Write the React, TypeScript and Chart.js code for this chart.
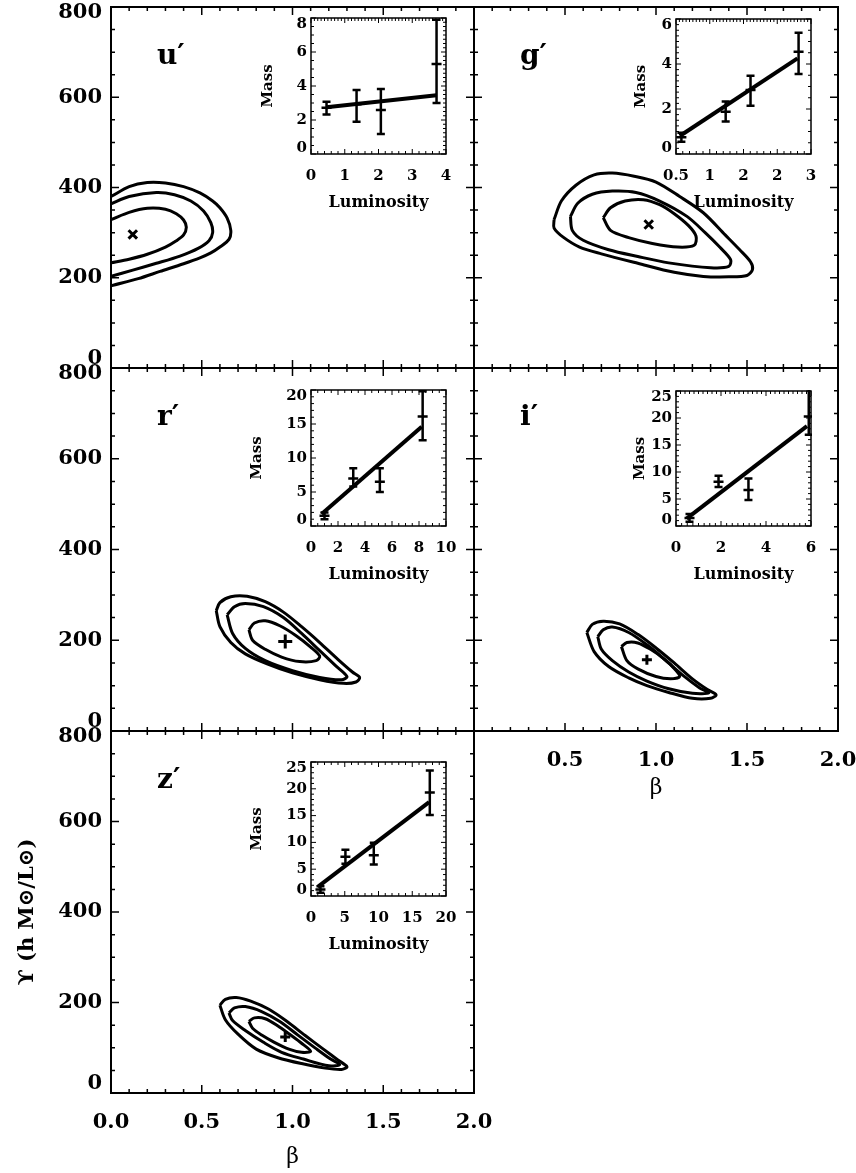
import React, { useEffect, useRef } from "react";
import { Chart, registerables } from "chart.js";

Chart.register(...registerables);

type Pt = [number, number];

// ---------- main panels: confidence contours (beta, Upsilon) ----------
const uOuter: Pt[] = [[-0.05,370],[0,380],[0.1,402],[0.2,411],[0.3,410],[0.4,402],[0.49,388],[0.56,370],[0.6,355],[0.64,332],[0.66,305],[0.65,285],[0.6,268],[0.55,255],[0.49,244],[0.4,231],[0.27,214],[0.15,198],[0,182],[-0.05,176]];
const uMiddle: Pt[] = [[-0.05,356],[0,364],[0.1,380],[0.25,389],[0.35,384],[0.44,370],[0.51,348],[0.55,322],[0.56,300],[0.54,282],[0.48,265],[0.38,248],[0.25,232],[0.12,217],[0,203],[-0.05,197]];
const uInner: Pt[] = [[-0.05,322],[0,329],[0.1,345],[0.2,354],[0.3,352],[0.36,342],[0.4,328],[0.415,312],[0.4,295],[0.36,282],[0.3,268],[0.2,252],[0.1,241],[0,233],[-0.05,229]];
const uBest: Pt = [0.12, 296];

const gOuter: Pt[] = [[0.44,329],[0.48,370],[0.56,405],[0.66,428],[0.76,432],[0.88,425],[1.0,412],[1.13,380],[1.26,344],[1.38,295],[1.46,262],[1.52,235],[1.53,218],[1.5,205],[1.4,202],[1.26,203],[1.1,212],[0.9,232],[0.7,253],[0.58,268],[0.49,290],[0.44,310]];
const gMiddle: Pt[] = [[0.53,336],[0.57,365],[0.65,385],[0.76,392],[0.89,389],[1.02,370],[1.17,336],[1.27,300],[1.35,268],[1.41,240],[1.4,225],[1.3,222],[1.07,233],[0.9,247],[0.74,262],[0.6,283],[0.54,305]];
const gInner: Pt[] = [[0.71,333],[0.75,355],[0.83,370],[0.93,373],[1.02,362],[1.1,342],[1.18,315],[1.22,292],[1.21,272],[1.12,268],[0.98,276],[0.85,289],[0.75,305]];
const gBest: Pt = [0.96, 318];

const rOuter: Pt[] = [[0.58,265],[0.6,283],[0.66,296],[0.75,297],[0.85,285],[0.95,262],[1.05,230],[1.15,195],[1.25,158],[1.33,130],[1.37,118],[1.35,108],[1.28,105],[1.15,113],[1.0,128],[0.86,148],[0.74,170],[0.66,195],[0.6,230]];
const rMiddle: Pt[] = [[0.64,256],[0.68,274],[0.74,281],[0.84,274],[0.95,250],[1.05,215],[1.15,177],[1.24,143],[1.3,120],[1.27,113],[1.15,118],[1.0,133],[0.85,155],[0.74,182],[0.67,215]];
const rInner: Pt[] = [[0.76,223],[0.79,238],[0.85,243],[0.93,232],[1.02,210],[1.1,185],[1.15,165],[1.13,155],[1.04,153],[0.94,163],[0.85,180],[0.78,200]];
const rBest: Pt = [0.96, 197];

const iOuter: Pt[] = [[0.62,217],[0.65,235],[0.71,242],[0.8,236],[0.9,213],[1.0,183],[1.1,150],[1.2,115],[1.28,92],[1.33,80],[1.3,72],[1.2,72],[1.07,85],[0.95,100],[0.85,117],[0.74,142],[0.66,175]];
const iMiddle: Pt[] = [[0.68,208],[0.71,223],[0.76,229],[0.85,217],[0.95,190],[1.05,157],[1.15,122],[1.24,95],[1.29,84],[1.2,83],[1.07,93],[0.95,110],[0.85,130],[0.76,155],[0.7,180]];
const iInner: Pt[] = [[0.81,186],[0.84,195],[0.9,194],[0.97,180],[1.04,160],[1.1,138],[1.13,120],[1.08,115],[1.0,120],[0.9,137],[0.84,155]];
const iBest: Pt = [0.95, 157];

const zOuter: Pt[] = [[0.6,194],[0.63,207],[0.69,211],[0.77,203],[0.87,185],[0.97,158],[1.07,127],[1.17,97],[1.25,73],[1.3,58],[1.27,52],[1.18,55],[1.05,65],[0.92,78],[0.8,97],[0.7,130],[0.63,162]];
const zMiddle: Pt[] = [[0.65,177],[0.68,188],[0.74,191],[0.83,180],[0.93,158],[1.03,128],[1.13,98],[1.21,75],[1.26,63],[1.2,60],[1.06,75],[0.94,90],[0.84,112],[0.74,138],[0.67,160]];
const zInner: Pt[] = [[0.76,158],[0.79,166],[0.85,164],[0.92,148],[0.99,128],[1.05,110],[1.1,92],[1.05,90],[0.98,97],[0.9,112],[0.83,128],[0.78,143]];
const zBest: Pt = [0.96, 124];

// ---------- insets: mass vs luminosity ----------
const uLum = [0.46, 1.35, 2.07, 3.72];
const uMass = [2.72, 2.92, 2.59, 5.29];
const uLo = [2.33, 1.9, 1.18, 3.0];
const uHi = [3.08, 3.76, 3.82, 7.9];
const uFitLum = [0.46, 3.72];
const uFitMass = [2.75, 3.45];

const gLum = [0.6, 1.42, 1.88, 2.77];
const gMass = [0.75, 1.88, 2.84, 4.55];
const gLo = [0.55, 1.44, 2.15, 3.56];
const gHi = [0.95, 2.33, 3.48, 5.39];
const gFitLum = [0.57, 2.75];
const gFitMass = [0.8, 4.25];
const gLumTickValues = [0.5, 1.125, 1.75, 2.375, 3];
const gLumTickLabels = ["0.5", "1", "2", "2", "3"];

const rLum = [1.0, 3.13, 5.1, 8.27];
const rMass = [1.5, 7.0, 6.5, 16.1];
const rLo = [1.0, 5.8, 5.0, 12.6];
const rHi = [2.0, 8.5, 8.5, 19.8];
const rFitLum = [0.79, 8.2];
const rFitMass = [1.77, 14.6];

const iLum = [0.6, 1.89, 3.22, 5.9];
const iMass = [1.5, 8.2, 6.66, 20.3];
const iLo = [0.8, 7.2, 4.8, 16.9];
const iHi = [2.2, 9.3, 8.8, 26];
const iFitLum = [0.47, 5.82];
const iFitMass = [1.37, 18.5];

const zLum = [1.4, 5.1, 9.3, 17.6];
const zMass = [1.2, 7.3, 7.6, 19.3];
const zLo = [0.6, 6.0, 5.9, 15.1];
const zHi = [1.8, 8.65, 9.95, 23.4];
const zFitLum = [1.0, 17.5];
const zFitMass = [1.7, 17.5];

// ---------- helpers ----------
const SERIF = '"DejaVu Serif", "Liberation Serif", serif';

type TickSpec = { from: number; to: number; step: number; every: number };

function drawSideTicks(ctx: CanvasRenderingContext2D, chart: any, side: string, t: TickSpec, maj: number, min: number) {
  const a = chart.chartArea;
  const n = Math.round((t.to - t.from) / t.step);
  for (let i = 0; i <= n; i++) {
    const v = t.from + i * t.step;
    const len = i % t.every === 0 ? maj : min;
    if (side === "bottom" || side === "top") {
      const px = chart.scales.x.getPixelForValue(v);
      if (side === "bottom") { ctx.moveTo(px, a.bottom); ctx.lineTo(px, a.bottom - len); }
      else { ctx.moveTo(px, a.top); ctx.lineTo(px, a.top + len); }
    } else {
      const py = chart.scales.y.getPixelForValue(v);
      if (side === "left") { ctx.moveTo(a.left, py); ctx.lineTo(a.left + len, py); }
      else { ctx.moveTo(a.right, py); ctx.lineTo(a.right - len, py); }
    }
  }
}

function endShiftPlugin(up: number, down: number) {
  return {
    id: "endShift",
    beforeDraw(chart: any) {
      const s = chart.scales.y;
      if (!s || !s.options.ticks.display) return;
      const items = s.getLabelItems();
      if (!items || !items.length || items.__shifted) return;
      items[0].options.translation[1] -= up;
      items[items.length - 1].options.translation[1] += down;
      items.__shifted = true;
    },
  };
}

type Box = { l: number; t: number; w: number; h: number };
type Pad = { l: number; t: number; r: number; b: number };

interface MainSpec {
  label: string;
  contours: Pt[][];
  closed: boolean;
  best: Pt;
  marker: string;
  markerSize: number;
  box: Box;
  pad: Pad;
  showX: boolean;
  showY: boolean;
  hideX0?: boolean;
  yTitle?: boolean;
  xTitlePad?: number;
}

function buildMain(canvas: HTMLCanvasElement, s: MainSpec) {
  const datasets: any[] = s.contours.map((c) => {
    const pts = c.map(([x, y]) => ({ x, y }));
    if (s.closed) pts.push({ x: c[0][0], y: c[0][1] });
    return {
      data: pts,
      showLine: true,
      borderColor: "#000",
      borderWidth: 3,
      pointRadius: 0,
      tension: 0.3,
      fill: false,
    };
  });
  datasets.push({
    data: [{ x: s.best[0], y: s.best[1] }],
    showLine: false,
    pointStyle: s.marker,
    pointRadius: s.markerSize,
    pointBorderWidth: 3,
    pointBorderColor: "#000",
    pointBackgroundColor: "#000",
  });
  const tickFont = { family: SERIF, size: 21, weight: "bold" as const };
  const frame = {
    id: "frame",
    afterDraw(chart: any) {
      const { ctx, chartArea: a } = chart;
      ctx.save();
      ctx.strokeStyle = "#000";
      ctx.lineWidth = 2;
      ctx.strokeRect(a.left, a.top, a.right - a.left, a.bottom - a.top);
      ctx.lineWidth = 1.5;
      ctx.beginPath();
      const xt = { from: 0, to: 2, step: 0.1, every: 5 };
      const yt = { from: 0, to: 800, step: 50, every: 4 };
      drawSideTicks(ctx, chart, "bottom", xt, 8, 4);
      drawSideTicks(ctx, chart, "top", xt, 8, 4);
      drawSideTicks(ctx, chart, "left", yt, 8, 4);
      drawSideTicks(ctx, chart, "right", yt, 8, 4);
      ctx.stroke();
      ctx.fillStyle = "#000";
      ctx.font = `bold 28px ${SERIF}`;
      ctx.textBaseline = "alphabetic";
      ctx.textAlign = "left";
      ctx.fillText(s.label, a.left + 46, a.top + 57);
      ctx.restore();
    },
  };
  return new Chart(canvas, {
    type: "scatter",
    data: { datasets },
    options: {
      animation: false,
      responsive: false,
      maintainAspectRatio: false,
      events: [],
      layout: { padding: { left: 0, top: s.pad.t, right: s.pad.r, bottom: 0 } },
      elements: { line: { capBezierPoints: false } as any },
      plugins: { legend: { display: false }, tooltip: { enabled: false } },
      scales: {
        x: {
          type: "linear",
          min: 0,
          max: 2,
          grid: { display: false, drawTicks: false },
          border: { display: false },
          ticks: {
            display: s.showX,
            stepSize: 0.5,
            autoSkip: false,
            maxRotation: 0,
            padding: 17,
            color: "#000",
            font: tickFont,
            callback: (v: any) => (s.hideX0 && Number(v) === 0 ? "" : Number(v).toFixed(1)),
          },
          title: {
            display: s.showX,
            text: "β",
            color: "#000",
            font: { family: SERIF, size: 22, weight: "normal" },
            padding: { top: 0, bottom: s.xTitlePad ?? 0 },
          },
          afterFit: (sc: any) => { sc.height = s.pad.b; },
        },
        y: {
          type: "linear",
          min: 0,
          max: 800,
          grid: { display: false, drawTicks: false },
          border: { display: false },
          ticks: {
            display: s.showY,
            stepSize: 200,
            autoSkip: false,
            padding: 9,
            color: "#000",
            font: tickFont,
            callback: (v: any) => String(v),
          },
          title: {
            display: !!s.yTitle,
            text: "ϒ (h M⊙/L⊙)",
            color: "#000",
            font: { family: SERIF, size: 21, weight: "bold" },
            padding: { top: 14, bottom: 0 },
          },
          afterFit: (sc: any) => { sc.width = s.pad.l; },
        },
      },
    } as any,
    plugins: [frame, endShiftPlugin(9, 6)],
  });
}

interface InsetSpec {
  lum: number[]; mass: number[]; lo: number[]; hi: number[];
  fitLum: number[]; fitMass: number[];
  xMin: number; xMax: number; xStep: number;
  xTickValues?: number[]; xTickLabels?: string[];
  yMax: number; yStep: number;
  ticks: { bottom: TickSpec; top: TickSpec; left: TickSpec; right: TickSpec };
  box: Box; pad: Pad;
  massPad: number;
}

function buildInset(canvas: HTMLCanvasElement, s: InsetSpec) {
  const fit = s.fitLum.map((x, i) => ({ x, y: s.fitMass[i] }));
  const decor = {
    id: "insetDecor",
    afterDatasetsDraw(chart: any) {
      const { ctx, chartArea: a, scales } = chart;
      ctx.save();
      ctx.beginPath();
      ctx.rect(a.left - 1, a.top - 1, a.right - a.left + 2, a.bottom - a.top + 2);
      ctx.clip();
      ctx.strokeStyle = "#000";
      ctx.lineWidth = 2.5;
      ctx.beginPath();
      s.lum.forEach((L, i) => {
        const px = scales.x.getPixelForValue(L);
        const pm = scales.y.getPixelForValue(s.mass[i]);
        const pl = scales.y.getPixelForValue(s.lo[i]);
        const ph = scales.y.getPixelForValue(s.hi[i]);
        ctx.moveTo(px, pl); ctx.lineTo(px, ph);
        ctx.moveTo(px - 4, pl); ctx.lineTo(px + 4, pl);
        ctx.moveTo(px - 4, ph); ctx.lineTo(px + 4, ph);
        ctx.moveTo(px - 5, pm); ctx.lineTo(px + 5, pm);
      });
      ctx.stroke();
      ctx.restore();
    },
    afterDraw(chart: any) {
      const { ctx, chartArea: a } = chart;
      ctx.save();
      ctx.strokeStyle = "#000";
      ctx.lineWidth = 1.5;
      ctx.strokeRect(a.left, a.top, a.right - a.left, a.bottom - a.top);
      ctx.lineWidth = 1;
      ctx.beginPath();
      drawSideTicks(ctx, chart, "bottom", s.ticks.bottom, 5, 3);
      drawSideTicks(ctx, chart, "top", s.ticks.top, 5, 3);
      drawSideTicks(ctx, chart, "left", s.ticks.left, 5, 3);
      drawSideTicks(ctx, chart, "right", s.ticks.right, 5, 3);
      ctx.stroke();
      ctx.restore();
    },
  };
  const tickFont = { family: SERIF, size: 15, weight: "bold" as const };
  return new Chart(canvas, {
    type: "scatter",
    data: {
      datasets: [
        { data: fit, showLine: true, borderColor: "#000", borderWidth: 4, pointRadius: 0, tension: 0 },
      ],
    },
    options: {
      animation: false,
      responsive: false,
      maintainAspectRatio: false,
      events: [],
      layout: { padding: { left: 0, top: s.pad.t, right: s.pad.r, bottom: 0 } },
      plugins: { legend: { display: false }, tooltip: { enabled: false } },
      scales: {
        x: {
          type: "linear",
          min: s.xMin,
          max: s.xMax,
          grid: { display: false, drawTicks: false },
          border: { display: false },
          afterBuildTicks: s.xTickValues
            ? (sc: any) => { sc.ticks = s.xTickValues!.map((v) => ({ value: v })); }
            : undefined,
          ticks: {
            stepSize: s.xStep,
            autoSkip: false,
            maxRotation: 0,
            padding: 13,
            color: "#000",
            font: tickFont,
            callback: (v: any, i: number) => (s.xTickLabels ? s.xTickLabels[i] : String(v)),
          },
          title: {
            display: true,
            text: "Luminosity",
            color: "#000",
            font: { family: SERIF, size: 16, weight: "bold" },
            padding: { top: 0, bottom: 4 },
          },
          afterFit: (sc: any) => { sc.height = s.pad.b; },
        },
        y: {
          type: "linear",
          min: 0,
          max: s.yMax,
          grid: { display: false, drawTicks: false },
          border: { display: false },
          ticks: {
            stepSize: s.yStep,
            autoSkip: false,
            padding: 4,
            color: "#000",
            font: tickFont,
            callback: (v: any) => String(v),
          },
          title: {
            display: true,
            text: "Mass",
            color: "#000",
            font: { family: SERIF, size: 15, weight: "bold" },
            padding: { top: s.massPad, bottom: 0 },
          },
          afterFit: (sc: any) => { sc.width = s.pad.l; },
        },
      },
    } as any,
    plugins: [decor, endShiftPlugin(6, 6)],
  });
}

// ---------- layout ----------
const mainSpecs: MainSpec[] = [
  { label: "u′", contours: [uOuter, uMiddle, uInner], closed: false, best: uBest, marker: "crossRot", markerSize: 6,
    box: { l: 111, t: 7, w: 363, h: 361 }, pad: { l: 110, t: 30, r: 10, b: 22 }, showX: false, showY: true },
  { label: "g′", contours: [gOuter, gMiddle, gInner], closed: true, best: gBest, marker: "crossRot", markerSize: 6,
    box: { l: 474, t: 7, w: 364, h: 361 }, pad: { l: 10, t: 30, r: 10, b: 22 }, showX: false, showY: false },
  { label: "r′", contours: [rOuter, rMiddle, rInner], closed: true, best: rBest, marker: "cross", markerSize: 7,
    box: { l: 111, t: 368, w: 363, h: 363 }, pad: { l: 110, t: 30, r: 10, b: 22 }, showX: false, showY: true },
  { label: "i′", contours: [iOuter, iMiddle, iInner], closed: true, best: iBest, marker: "cross", markerSize: 5,
    box: { l: 474, t: 368, w: 364, h: 363 }, pad: { l: 45, t: 30, r: 45, b: 80 }, showX: true, showY: false, hideX0: true, xTitlePad: 10 },
  { label: "z′", contours: [zOuter, zMiddle, zInner], closed: true, best: zBest, marker: "cross", markerSize: 5,
    box: { l: 111, t: 731, w: 363, h: 362 }, pad: { l: 110, t: 30, r: 45, b: 80 }, showX: true, showY: true, yTitle: true, xTitlePad: 3 },
];

const insetPad: Pad = { l: 70, t: 22, r: 32, b: 62 };

const insetSpecs: InsetSpec[] = [
  { lum: uLum, mass: uMass, lo: uLo, hi: uHi, fitLum: uFitLum, fitMass: uFitMass,
    xMin: 0, xMax: 4, xStep: 1, yMax: 8, yStep: 2,
    ticks: { bottom: { from: 0, to: 4, step: 0.2, every: 5 }, top: { from: 0, to: 4, step: 0.1, every: 10 },
             left: { from: 0, to: 8, step: 0.5, every: 4 }, right: { from: 0, to: 8, step: 0.25, every: 8 } },
    box: { l: 311, t: 18, w: 135, h: 136 }, pad: insetPad, massPad: 18 },
  { lum: gLum, mass: gMass, lo: gLo, hi: gHi, fitLum: gFitLum, fitMass: gFitMass,
    xMin: 0.5, xMax: 3, xStep: 0.625, xTickValues: gLumTickValues, xTickLabels: gLumTickLabels, yMax: 6, yStep: 2,
    ticks: { bottom: { from: 0.5, to: 3, step: 0.125, every: 5 }, top: { from: 0.5, to: 3, step: 0.0625, every: 10 },
             left: { from: 0, to: 6, step: 0.25, every: 8 }, right: { from: 0, to: 6, step: 0.5, every: 4 } },
    box: { l: 676, t: 19, w: 135, h: 135 }, pad: insetPad, massPad: 26 },
  { lum: rLum, mass: rMass, lo: rLo, hi: rHi, fitLum: rFitLum, fitMass: rFitMass,
    xMin: 0, xMax: 10, xStep: 2, yMax: 20, yStep: 5,
    ticks: { bottom: { from: 0, to: 10, step: 0.5, every: 4 }, top: { from: 0, to: 10, step: 0.5, every: 4 },
             left: { from: 0, to: 20, step: 1, every: 5 }, right: { from: 0, to: 20, step: 1, every: 5 } },
    box: { l: 311, t: 390, w: 135, h: 136 }, pad: insetPad, massPad: 7 },
  { lum: iLum, mass: iMass, lo: iLo, hi: iHi, fitLum: iFitLum, fitMass: iFitMass,
    xMin: 0, xMax: 6, xStep: 2, yMax: 25, yStep: 5,
    ticks: { bottom: { from: 0, to: 6, step: 0.25, every: 8 }, top: { from: 0, to: 6, step: 0.2, every: 10 },
             left: { from: 0, to: 25, step: 1, every: 5 }, right: { from: 0, to: 25, step: 1, every: 5 } },
    box: { l: 676, t: 391, w: 135, h: 135 }, pad: insetPad, massPad: 25 },
  { lum: zLum, mass: zMass, lo: zLo, hi: zHi, fitLum: zFitLum, fitMass: zFitMass,
    xMin: 0, xMax: 20, xStep: 5, yMax: 25, yStep: 5,
    ticks: { bottom: { from: 0, to: 20, step: 1, every: 5 }, top: { from: 0, to: 20, step: 1, every: 5 },
             left: { from: 0, to: 25, step: 1, every: 5 }, right: { from: 0, to: 25, step: 1, every: 5 } },
    box: { l: 311, t: 762, w: 135, h: 134 }, pad: insetPad, massPad: 7 },
];

function ChartCanvas<T extends { box: Box; pad: Pad }>({ spec, build }: { spec: T; build: (c: HTMLCanvasElement, s: T) => Chart }) {
  const ref = useRef<HTMLCanvasElement>(null);
  const left = spec.box.l - spec.pad.l;
  const top = spec.box.t - spec.pad.t;
  const width = spec.box.w + spec.pad.l + spec.pad.r;
  const height = spec.box.h + spec.pad.t + spec.pad.b;
  useEffect(() => {
    const chart = build(ref.current!, spec);
    return () => chart.destroy();
  }, []);
  return (
    <canvas
      ref={ref}
      width={width}
      height={height}
      style={{ position: "absolute", left, top, width, height }}
    />
  );
}

export default function App() {
  return (
    <div style={{ position: "absolute", left: 0, top: 0, width: 856, height: 1173, overflow: "hidden", background: "#fff" }}>
      {mainSpecs.map((s, i) => (
        <ChartCanvas key={"m" + i} spec={s} build={buildMain} />
      ))}
      {insetSpecs.map((s, i) => (
        <ChartCanvas key={"i" + i} spec={s} build={buildInset} />
      ))}
    </div>
  );
}
